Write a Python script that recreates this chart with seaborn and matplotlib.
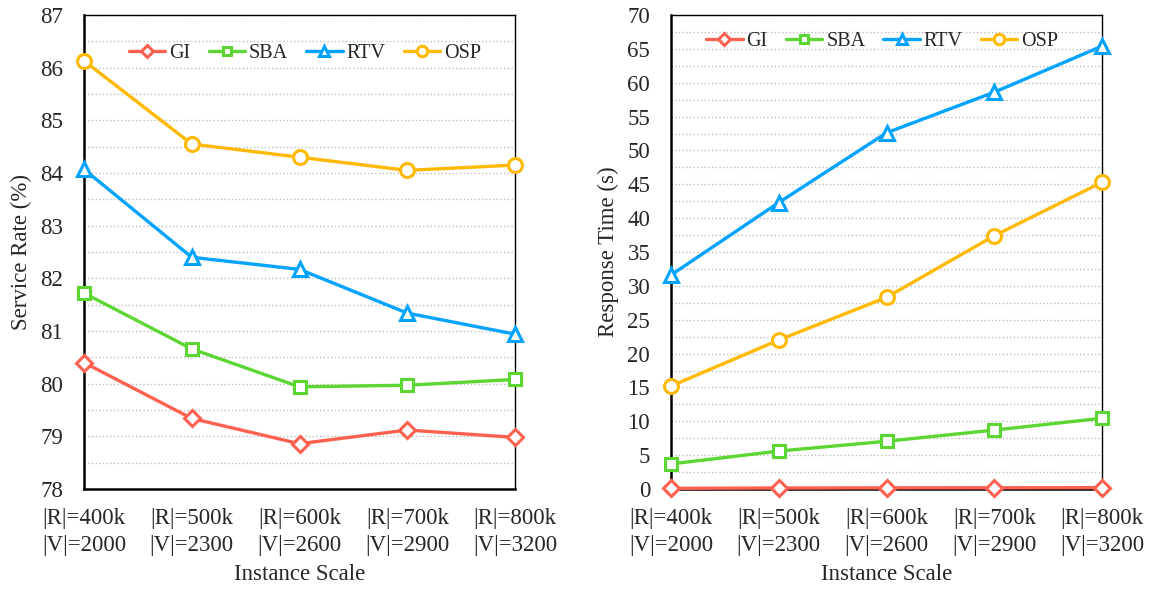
import matplotlib
matplotlib.use("Agg")
import matplotlib.pyplot as plt
from matplotlib.ticker import MultipleLocator
import seaborn as sns
import pandas as pd

# Instance scales on the x axis
scales = ["|R|=400k\n|V|=2000", "|R|=500k\n|V|=2300", "|R|=600k\n|V|=2600",
          "|R|=700k\n|V|=2900", "|R|=800k\n|V|=3200"]
methods = ["GI", "SBA", "RTV", "OSP"]

# Service rate (%)
rate_gi = [80.40, 79.34, 78.86, 79.12, 78.98]
rate_sba = [81.72, 80.66, 79.94, 79.97, 80.08]
rate_rtv = [84.07, 82.40, 82.17, 81.34, 80.94]
rate_osp = [86.13, 84.55, 84.30, 84.05, 84.15]

# Response time (s)
time_gi = [0.10, 0.15, 0.17, 0.18, 0.20]
time_sba = [3.7, 5.6, 7.05, 8.7, 10.45]
time_rtv = [31.6, 42.3, 52.6, 58.6, 65.4]
time_osp = [15.2, 22.0, 28.3, 37.4, 45.3]

colors = {"GI": "#FF6150", "SBA": "#5CD632", "RTV": "#00A3FF", "OSP": "#FFB900"}
markers = {"GI": "D", "SBA": "s", "RTV": "^", "OSP": "o"}
msizes = {"GI": 8, "SBA": 8, "RTV": 10, "OSP": 10}

sns.set_theme(style="white")
plt.rcParams["font.family"] = ["Liberation Serif", "DejaVu Serif"]

FS = 16.5


def long_frame(series):
    rows = []
    for name, vals in zip(methods, series):
        for i, v in enumerate(vals):
            rows.append({"scale": i, "method": name, "value": v})
    return pd.DataFrame(rows)


def draw_panel(ax, df, ylim, major, minor, ylabel, legend_anchor):
    for name in methods:
        sub = df[df["method"] == name]
        sns.lineplot(data=sub, x="scale", y="value", ax=ax, color=colors[name],
                     marker=markers[name], markersize=msizes[name],
                     markerfacecolor="white", markeredgecolor=colors[name],
                     markeredgewidth=2.2, linewidth=2.4, label=name,
                     sort=False, zorder=3, clip_on=False)
    ax.set_xlim(0, len(scales) - 1)
    ax.set_ylim(*ylim)
    ax.set_xticks(range(len(scales)))
    ax.set_xticklabels(scales, fontsize=FS, linespacing=1.32)
    ax.yaxis.set_major_locator(MultipleLocator(major))
    ax.yaxis.set_minor_locator(MultipleLocator(minor))
    ax.tick_params(axis="y", which="both", length=0, labelsize=FS, pad=15)
    ax.tick_params(axis="x", which="major", direction="in", length=6,
                   width=1.2, color="black", pad=14)
    ax.grid(True, which="both", axis="y", color="#BDBDBD", linestyle=":",
            linewidth=1.0, zorder=0)
    for side in ["left", "bottom"]:
        ax.spines[side].set_color("black")
        ax.spines[side].set_linewidth(1.8)
    for side in ["top", "right"]:
        ax.spines[side].set_color("black")
        ax.spines[side].set_linewidth(1.0)
    ax.set_xlabel("Instance Scale", fontsize=FS, labelpad=6)
    ax.set_ylabel(ylabel, fontsize=FS, labelpad=6)
    ax.legend(loc="center", bbox_to_anchor=legend_anchor, ncol=4, frameon=False,
              fontsize=14.5, handlelength=1.8, handletextpad=0.2,
              columnspacing=0.9, markerscale=0.75)


fig = plt.figure(figsize=(11.62, 5.89), dpi=100)
ax1 = fig.add_axes([84 / 1162, 100 / 589, 431 / 1162, 474 / 589])
ax2 = fig.add_axes([671 / 1162, 100 / 589, 431 / 1162, 474 / 589])

draw_panel(ax1, long_frame([rate_gi, rate_sba, rate_rtv, rate_osp]),
           (78, 87), 1, 0.5, "Service Rate (%)", (0.513, 0.918))
draw_panel(ax2, long_frame([time_gi, time_sba, time_rtv, time_osp]),
           (0, 70), 5, 2.5, "Response Time (s)", (0.49, 0.945))

fig.savefig("out.png", dpi=100, facecolor="white")
